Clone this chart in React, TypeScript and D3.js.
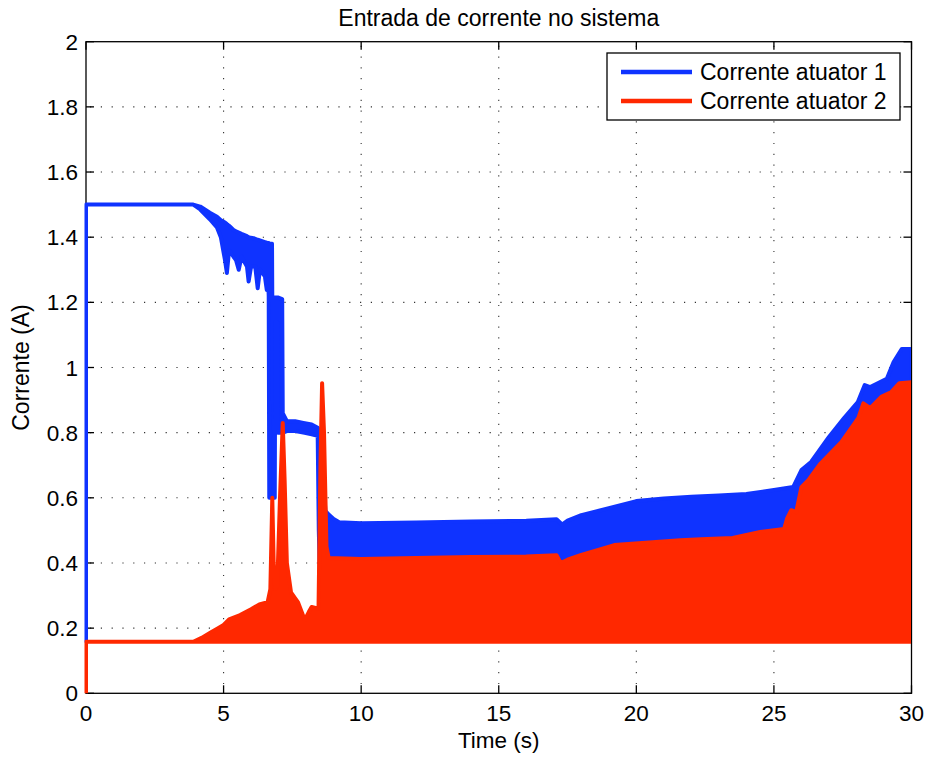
import { useEffect, useRef } from 'react';
import * as d3 from "d3";

// Envelopes of the (very dense) oscillating current signals
const blueTime = [0, 0.001, 3.9, 4.15, 4.5, 4.76, 4.9, 5.05, 5.12, 5.2, 5.36, 5.45, 5.55, 5.65, 5.85, 5.91, 6.0, 6.09, 6.15, 6.24, 6.32, 6.5, 6.57, 6.62, 6.64, 6.66, 6.76, 6.77, 6.86, 6.88, 6.95, 6.97, 7.13, 7.15, 7.3, 7.6, 7.9, 8.2, 8.42, 8.46, 8.55, 8.7, 8.8, 9.0, 9.2, 10, 12, 14, 16, 17.1, 17.3, 17.5, 18, 19, 20, 21, 22, 23, 24, 25, 25.7, 26.0, 26.35, 27.0, 27.55, 28.05, 28.3, 28.5, 29.1, 29.35, 29.65, 30];
const blueHigh = [0.16, 1.5, 1.5, 1.494, 1.475, 1.463, 1.452, 1.445, 1.44, 1.435, 1.422, 1.418, 1.414, 1.41, 1.403, 1.4, 1.398, 1.397, 1.395, 1.392, 1.39, 1.385, 1.383, 1.382, 1.382, 1.381, 1.38, 1.215, 1.215, 1.215, 1.215, 1.215, 1.21, 0.86, 0.835, 0.835, 0.83, 0.825, 0.815, 0.81, 0.75, 0.56, 0.55, 0.535, 0.525, 0.522, 0.524, 0.527, 0.53, 0.534, 0.518, 0.53, 0.547, 0.568, 0.59, 0.598, 0.603, 0.607, 0.612, 0.624, 0.633, 0.685, 0.71, 0.787, 0.845, 0.894, 0.946, 0.94, 0.965, 1.017, 1.057, 1.057];
const blueLow = [0.16, 1.5, 1.5, 1.485, 1.455, 1.43, 1.4, 1.33, 1.29, 1.36, 1.34, 1.33, 1.3, 1.34, 1.31, 1.264, 1.31, 1.31, 1.31, 1.243, 1.3, 1.28, 1.238, 1.27, 1.22, 0.6, 0.6, 0.6, 0.6, 1.14, 1.14, 0.8, 0.8, 0.8, 0.805, 0.805, 0.8, 0.795, 0.79, 0.5, 0.2, 0.2, 0.2, 0.2, 0.2, 0.2, 0.2, 0.2, 0.2, 0.2, 0.2, 0.2, 0.2, 0.2, 0.2, 0.2, 0.2, 0.2, 0.2, 0.2, 0.2, 0.2, 0.2, 0.2, 0.2, 0.2, 0.2, 0.2, 0.2, 0.2, 0.2, 0.2];

const redTime = [0, 0.001, 3.9, 4.2, 4.5, 4.8, 5.0, 5.2, 5.6, 6.0, 6.3, 6.6, 6.7, 6.77, 6.82, 6.88, 6.95, 7.05, 7.15, 7.22, 7.3, 7.45, 7.7, 7.95, 8.1, 8.2, 8.45, 8.52, 8.58, 8.65, 8.74, 8.82, 10, 12, 14, 16, 17.1, 17.25, 17.5, 18, 19.2, 21.6, 22.35, 23.5, 24.5, 25.37, 25.48, 25.63, 25.81, 26.0, 26.25, 26.7, 27.45, 28.07, 28.25, 28.5, 28.9, 29.27, 29.56, 30];
const redHigh = [0, 0.158, 0.158, 0.17, 0.185, 0.2, 0.21, 0.227, 0.24, 0.258, 0.273, 0.28, 0.32, 0.6, 0.4, 0.32, 0.33, 0.6, 0.83, 0.65, 0.4, 0.31, 0.28, 0.225, 0.25, 0.265, 0.26, 0.7, 0.952, 0.8, 0.45, 0.415, 0.412, 0.415, 0.418, 0.42, 0.424, 0.4, 0.41, 0.425, 0.455, 0.47, 0.473, 0.477, 0.495, 0.504, 0.537, 0.562, 0.556, 0.633, 0.654, 0.706, 0.771, 0.845, 0.89, 0.875, 0.91, 0.925, 0.952, 0.955];
const redLow = redTime.map((t, i) => (i === 0 ? 0 : 0.158));

const xTicks = [0, 5, 10, 15, 20, 25, 30];
const yTicks = [0, 0.2, 0.4, 0.6, 0.8, 1, 1.2, 1.4, 1.6, 1.8, 2];
const seriesNames = ["Corrente atuator 1", "Corrente atuator 2"];

export default function App() {
  const chartRef = useRef<SVGSVGElement>(null);

  useEffect(() => {
    if (!chartRef.current) return;
    d3.select(chartRef.current).selectAll("*").remove();

    const width = 930;
    const height = 760;
    const marginLeft = 86;
    const marginRight = 18.5;
    const marginTop = 41.7;
    const marginBottom = 66.7;
    const font = "'Liberation Sans', Arial, Helvetica, sans-serif";
    const blue = "#0f33ff";
    const red = "#ff2800";

    const x = d3.scaleLinear().domain([0, 30]).range([marginLeft, width - marginRight]);
    const y = d3.scaleLinear().domain([0, 2]).range([height - marginBottom, marginTop]);

    const svg = d3.select(chartRef.current)
      .attr("viewBox", [0, 0, width, height])
      .attr("width", width)
      .attr("height", height)
      .attr("style", "position:absolute;left:0;top:0;background:#fff;font-family:" + font);

    svg.append("rect").attr("width", width).attr("height", height).attr("fill", "#fff");

    // Grid (dotted)
    const grid = svg.append("g")
      .attr("stroke", "#333")
      .attr("stroke-width", 1.1)
      .attr("stroke-dasharray", "1.2 9.6");
    grid.selectAll("line.v")
      .data(xTicks.slice(1, -1))
      .join("line")
      .attr("x1", d => x(d)).attr("x2", d => x(d))
      .attr("y1", y(2) + 4).attr("y2", y(0));
    grid.selectAll("line.h")
      .data(yTicks.slice(1, -1))
      .join("line")
      .attr("class", "h")
      .attr("x1", x(0) + 4).attr("x2", x(30))
      .attr("y1", d => y(d)).attr("y2", d => y(d));

    // Box and inward ticks on all sides (drawn under the data, as in MATLAB)
    const axes = svg.append("g").attr("stroke", "#000").attr("stroke-width", 1.3);
    axes.append("rect")
      .attr("x", x(0)).attr("y", y(2))
      .attr("width", x(30) - x(0)).attr("height", y(0) - y(2))
      .attr("fill", "none");
    const tl = 8;
    xTicks.forEach(t => {
      axes.append("line").attr("x1", x(t)).attr("x2", x(t)).attr("y1", y(0)).attr("y2", y(0) - tl);
      axes.append("line").attr("x1", x(t)).attr("x2", x(t)).attr("y1", y(2)).attr("y2", y(2) + tl);
    });
    yTicks.forEach(t => {
      axes.append("line").attr("x1", x(0)).attr("x2", x(0) + tl).attr("y1", y(t)).attr("y2", y(t));
      axes.append("line").attr("x1", x(30)).attr("x2", x(30) - tl).attr("y1", y(t)).attr("y2", y(t));
    });

    svg.append("clipPath").attr("id", "plot-clip")
      .append("rect")
      .attr("x", x(0) - 1.5).attr("y", y(2))
      .attr("width", x(30) - x(0) + 1).attr("height", y(0) - y(2));

    const band = (ts: number[], lo: number[], hi: number[]) =>
      d3.area<number>()
        .x((_, i) => x(ts[i]))
        .y0((_, i) => y(lo[i]))
        .y1((_, i) => y(hi[i]))(ts);

    const plot = svg.append("g").attr("clip-path", "url(#plot-clip)");
    plot.append("path")
      .attr("d", band(blueTime, blueLow, blueHigh))
      .attr("fill", blue).attr("stroke", blue)
      .attr("stroke-width", 4).attr("stroke-linejoin", "round");
    plot.append("path")
      .attr("d", band(redTime, redLow, redHigh))
      .attr("fill", red).attr("stroke", red)
      .attr("stroke-width", 4).attr("stroke-linejoin", "round");

    const fmt = d3.format("~g");
    svg.append("g").attr("font-size", 22.5).attr("fill", "#000")
      .selectAll("text")
      .data(xTicks)
      .join("text")
      .attr("x", d => x(d))
      .attr("y", 721)
      .attr("text-anchor", "middle")
      .text(d => fmt(d));
    svg.append("g").attr("font-size", 22.5).attr("fill", "#000")
      .selectAll("text")
      .data(yTicks)
      .join("text")
      .attr("x", x(0) - 8)
      .attr("y", d => y(d) + 8)
      .attr("text-anchor", "end")
      .text(d => fmt(d));

    // Labels
    svg.append("text")
      .attr("x", (x(0) + x(30)) / 2).attr("y", 26)
      .attr("text-anchor", "middle").attr("font-size", 23)
      .text("Entrada de corrente no sistema");
    svg.append("text")
      .attr("x", (x(0) + x(30)) / 2).attr("y", 748)
      .attr("text-anchor", "middle").attr("font-size", 22.5)
      .text("Time (s)");
    svg.append("text")
      .attr("transform", "rotate(-90)")
      .attr("x", -(y(0) + y(2)) / 2).attr("y", 29)
      .attr("text-anchor", "middle").attr("font-size", 23)
      .text("Corrente (A)");

    // Legend
    const legend = svg.append("g");
    legend.append("rect")
      .attr("x", 607).attr("y", 53).attr("width", 293).attr("height", 67)
      .attr("fill", "#fff").attr("stroke", "#000").attr("stroke-width", 1.3);
    [blue, red].forEach((c, i) => {
      const ly = 72 + i * 29;
      legend.append("line")
        .attr("x1", 621).attr("x2", 692).attr("y1", ly).attr("y2", ly)
        .attr("stroke", c).attr("stroke-width", 4.5);
      legend.append("text")
        .attr("x", 700).attr("y", ly + 8).attr("font-size", 23)
        .text(seriesNames[i]);
    });
  }, []);

  return (
    <div>
      <svg ref={chartRef}></svg>
    </div>
  );
}
